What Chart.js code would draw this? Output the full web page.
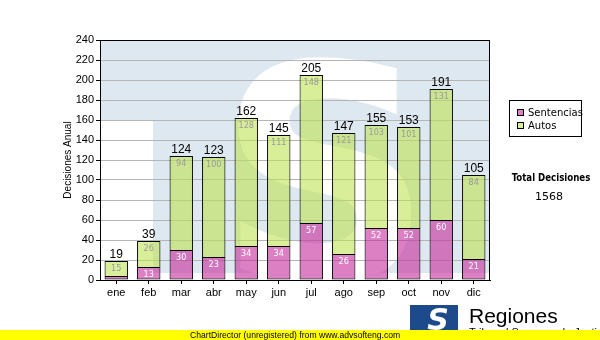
<!DOCTYPE html>
<html>
<head>
<meta charset="utf-8">
<title>Decisiones Anual</title>
<script src="https://cdn.jsdelivr.net/npm/chart.js@4"></script>
<style>
  body { margin: 0; background: #fff; }
  #wrap { width: 600px; height: 340px; }
</style>
</head>
<body>
<div id="wrap"><canvas id="chart" width="600" height="340"></canvas></div>
<script>
const meses = ['ene', 'feb', 'mar', 'abr', 'may', 'jun', 'jul', 'ago', 'sep', 'oct', 'nov', 'dic']
const sentencias = [4, 13, 30, 23, 34, 34, 57, 26, 52, 52, 60, 21]
const autos = [15, 26, 94, 100, 128, 111, 148, 121, 103, 101, 131, 84]
const totales = sentencias.map((s, i) => s + autos[i])
const totalDecisiones = totales.reduce((a, b) => a + b, 0)

const rosa = 'rgba(198, 42, 155, 0.6)'
const verde = 'rgba(190, 226, 78, 0.58)'
const celeste = '#dee8f1'

// watermark behind the plot area (drawn before grid and bars)
const fondo = {
  id: 'fondo',
  beforeDraw(chart) {
    const { ctx, chartArea: a } = chart
    ctx.save()
    ctx.fillStyle = '#fff'
    ctx.fillRect(0, 0, chart.width, chart.height)
    ctx.beginPath()
    ctx.rect(a.left, a.top, a.right - a.left, a.bottom - a.top)
    ctx.clip()
    ctx.fillStyle = celeste
    ctx.fillRect(a.left, a.top, a.right - a.left, 233)
    ctx.fillStyle = '#fff'
    ctx.fillRect(a.left, a.top + 80, 53, 200)
    ctx.font = 'bold 300px "DejaVu Sans"'
    ctx.textAlign = 'center'
    ctx.fillText('S', 325, 280)
    ctx.restore()
  }
}

// value labels, totals, legend and footer
const rotulos = {
  id: 'rotulos',
  afterDatasetsDraw(chart) {
    const { ctx, chartArea: a } = chart
    ctx.save()
    ctx.strokeStyle = '#000'
    ctx.lineWidth = 1
    ctx.strokeRect(a.left + 0.5, a.top + 0.5, a.right - a.left - 1, a.bottom - a.top)

    ctx.textAlign = 'center'
    ctx.textBaseline = 'alphabetic'
    const metaS = chart.getDatasetMeta(0)
    const metaA = chart.getDatasetMeta(1)
    meses.forEach((m, i) => {
      const bs = metaS.data[i]
      const ba = metaA.data[i]
      ctx.font = '9px "DejaVu Sans Condensed"'
      if (bs.base - bs.y >= 10) {
        ctx.fillStyle = '#fff'
        ctx.fillText(sentencias[i], bs.x, bs.y + 10)
      }
      ctx.fillStyle = '#9a9a9a'
      ctx.fillText(autos[i], ba.x, ba.y + 10)
      ctx.font = '12px "Liberation Sans"'
      ctx.fillStyle = '#000'
      ctx.fillText(totales[i], ba.x, ba.y - 3)
    })
    ctx.restore()
  },
  afterDraw(chart) {
    const { ctx } = chart
    ctx.save()
    // legend
    ctx.strokeStyle = '#000'
    ctx.lineWidth = 1
    ctx.strokeRect(509.5, 100.5, 72, 36)
    ctx.font = '10px "DejaVu Sans"'
    ctx.textBaseline = 'middle'
    chart.data.datasets.forEach((ds, i) => {
      const y = 113 + i * 13
      ctx.fillStyle = '#fff'
      ctx.fillRect(517, y - 4, 7, 7)
      ctx.fillStyle = ds.backgroundColor
      ctx.fillRect(517, y - 4, 7, 7)
      ctx.strokeRect(517.5, y - 3.5, 6, 6)
      ctx.fillStyle = '#000'
      ctx.fillText(ds.label, 528, y)
    })

    ctx.textAlign = 'center'
    ctx.font = 'bold 9.6px "DejaVu Sans Condensed"'
    ctx.fillText('Total Decisiones', 551, 178)
    ctx.font = '11px "DejaVu Sans"'
    ctx.fillText(totalDecisiones, 549, 197)

    // logo and footer
    ctx.fillStyle = '#1c4a8a'
    ctx.fillRect(410, 305, 48, 25)
    ctx.fillStyle = '#fff'
    ctx.font = 'bold italic 30px "DejaVu Sans"'
    ctx.textBaseline = 'alphabetic'
    ctx.fillText('S', 438, 330)
    ctx.textAlign = 'left'
    ctx.fillStyle = '#000'
    ctx.font = '21px "Liberation Sans"'
    ctx.fillText('Regiones', 469, 323)
    ctx.font = '11px "Liberation Sans"'
    ctx.fillText('Tribunal Supremo de Justicia', 469, 336)

    ctx.fillStyle = '#ffff00'
    ctx.fillRect(0, 330, 600, 10)
    ctx.fillStyle = '#000'
    ctx.font = '8.6px "Liberation Sans"'
    ctx.fillText('ChartDirector (unregistered) from www.advsofteng.com', 190, 338)
    ctx.restore()
  }
}

new Chart(
  document.getElementById('chart'),
  {
    type: 'bar',
    data: {
      labels: meses,
      datasets: [
        {
          label: 'Sentencias',
          data: sentencias,
          backgroundColor: rosa,
          borderColor: '#000',
          borderWidth: 1,
          borderSkipped: false
        },
        {
          label: 'Autos',
          data: autos,
          backgroundColor: verde,
          borderColor: '#000',
          borderWidth: 1,
          borderSkipped: 'bottom'
        }
      ]
    },
    options: {
      responsive: false,
      animation: false,
      barPercentage: 0.72,
      categoryPercentage: 1,
      layout: { padding: { top: 40, right: 110, bottom: 0, left: 0 } },
      plugins: {
        legend: { display: false },
        tooltip: { enabled: false }
      },
      scales: {
        x: {
          stacked: true,
          grid: { offset: false, drawOnChartArea: false, tickLength: 4, tickColor: '#000' },
          border: { color: '#000' },
          ticks: { color: '#000', padding: 2, font: { family: 'Liberation Sans', size: 11 } },
          afterFit(s) { s.height = 60 }
        },
        y: {
          stacked: true,
          min: 0,
          max: 240,
          grid: { color: '#b5b5b5', tickColor: '#000', tickLength: 4 },
          border: { color: '#000' },
          ticks: { stepSize: 20, color: '#000', padding: 2, font: { family: 'Liberation Sans', size: 11 } },
          title: {
            display: true,
            text: 'Decisiones Anual',
            color: '#000',
            padding: { top: 62, bottom: 0 },
            font: { family: 'Liberation Sans', size: 10 }
          },
          afterFit(s) { s.width = 100 }
        }
      }
    },
    plugins: [fondo, rotulos]
  }
)
</script>
</body>
</html>
